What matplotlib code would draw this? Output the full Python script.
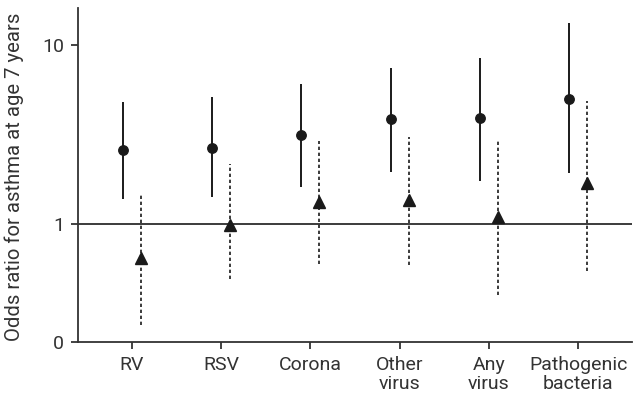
import matplotlib
matplotlib.use("Agg")
import matplotlib.pyplot as plt
import numpy as np

categories = ["RV", "RSV", "Corona", "Other\nvirus", "Any\nvirus", "Pathogenic\nbacteria"]
or_circle = [2.58, 2.65, 3.13, 3.86, 3.89, 5.01]
circle_low = [1.38, 1.41, 1.60, 1.96, 1.74, 1.92]
circle_high = [4.82, 5.12, 6.03, 7.44, 8.49, 13.2]
or_tri = [0.65, 0.99, 1.33, 1.36, 1.10, 1.69]
tri_low = [0.273, 0.491, 0.595, 0.588, 0.403, 0.549]
tri_high = [1.50, 2.16, 2.90, 3.07, 2.94, 4.85]
ytick_vals = [0.22, 1, 10]
ytick_labels = ["0", "1", "10"]

plt.rcParams['font.family'] = ['Roboto', 'DejaVu Sans']
col = "#1a1a1a"
tcol = "#333333"

fig = plt.figure(figsize=(6.4, 4.03), dpi=100)
ax = fig.add_axes([0.122, 0.152, 0.8655, 0.827])
ax.set_yscale("log")

x = np.arange(1, len(categories) + 1)
off = 0.10
xc = x - off
xt = x + off

for xi, lo, hi in zip(xc, circle_low, circle_high):
    ax.plot([xi, xi], [lo, hi], color=col, lw=1.4, solid_capstyle='butt')
ax.plot(xc, or_circle, 'o', color=col, ms=6.8, zorder=3)

for xi, lo, hi in zip(xt, tri_low, tri_high):
    ax.plot([xi, xi], [lo, hi], color=col, lw=1.2, linestyle=(0, (2.0, 1.6)))
ax.plot(xt, or_tri, '^', color=col, ms=8, zorder=3)

ax.axhline(1, color=col, lw=1.2, zorder=1)

ax.set_xlim(0.4, 6.6)
ax.set_ylim(0.22, 16)
ax.set_xticks(x)
ax.set_xticklabels(categories, fontsize=14, color=tcol, linespacing=1.1)
ax.set_yticks(ytick_vals)
ax.set_yticklabels(ytick_labels, fontsize=14, color=tcol)
ax.yaxis.set_minor_locator(matplotlib.ticker.NullLocator())
ax.set_ylabel("Odds ratio for asthma at age 7 years", fontsize=14.6, color=tcol)
ax.yaxis.set_label_coords(-0.097, 0.4955)

for s in ["top", "right"]:
    ax.spines[s].set_visible(False)
for s in ["left", "bottom"]:
    ax.spines[s].set_linewidth(1.3)
    ax.spines[s].set_color("#333333")
ax.tick_params(axis='both', length=5, width=1.3, color="#333333", pad=5)

fig.savefig("out.png", dpi=100)
